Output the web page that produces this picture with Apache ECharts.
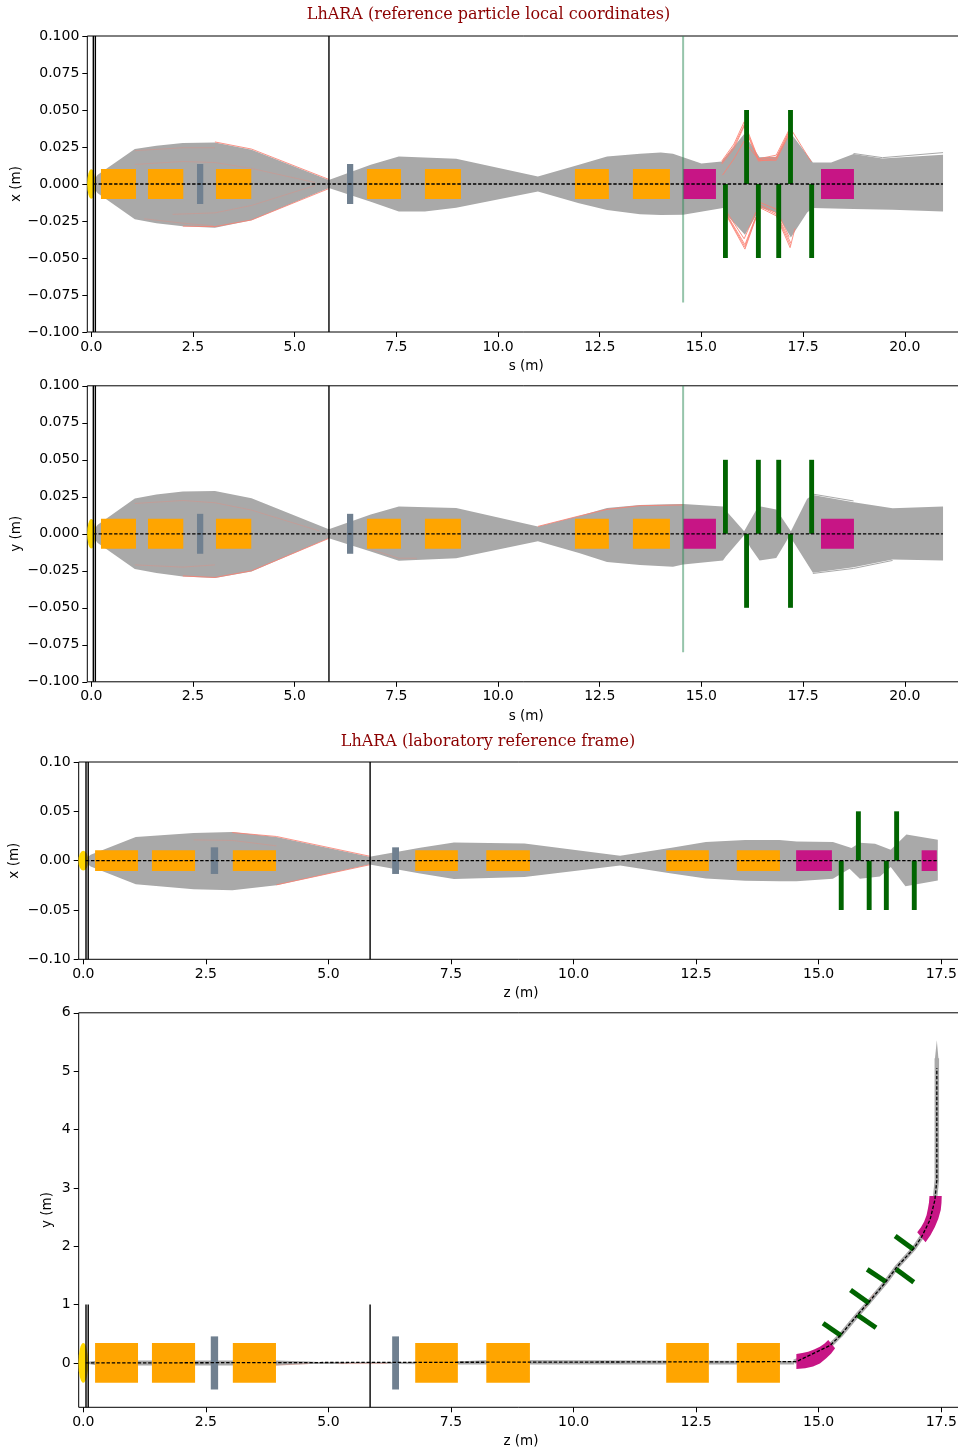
<!DOCTYPE html>
<html>
<head>
<meta charset="utf-8">
<style>html,body{margin:0;padding:0;background:#fff}#c{width:958px;height:1450px}</style>
<script src="https://cdn.jsdelivr.net/npm/echarts@6/dist/echarts.min.js"></script>
</head>
<body>
<div id="c"></div>
<script>
// ---- text and ticks ----
const titleLocal = 'LhARA (reference particle local coordinates)';
const titleLab = 'LhARA (laboratory reference frame)';
const sTicks = [0, 2.5, 5, 7.5, 10, 12.5, 15, 17.5, 20];
const zTicks = [0, 2.5, 5, 7.5, 10, 12.5, 15, 17.5];
const localYTicks = [-0.1, -0.075, -0.05, -0.025, 0, 0.025, 0.05, 0.075, 0.1];
const labXTicks = [-0.1, -0.05, 0, 0.05, 0.1];
const labYTicks = [0, 1, 2, 3, 4, 5, 6];

// ---- beam envelopes [position, offset] ----
const xEnvUpper = [[0.05,0.002],[0.15,0.006],[1.07,0.0236],[1.6,0.0258],[2.25,0.0277],[3.04,0.0281],[3.94,0.0231],[5.84,0.0027],[6.87,0.013],[7.56,0.0185],[8.97,0.017],[10.98,0.005],[11.99,0.013],[12.68,0.0185],[13.49,0.0205],[14.0,0.0213],[14.3,0.0205],[14.55,0.018],[15.0,0.0139],[15.5,0.0152],[16.05,0.0337],[16.43,0.018],[16.84,0.0184],[17.18,0.0349],[17.74,0.0146],[18.19,0.0146],[18.74,0.0202],[19.45,0.0173],[20.94,0.0198]];
const xEnvLower = [[0.05,-0.002],[0.15,-0.006],[1.07,-0.0238],[1.6,-0.0265],[2.25,-0.0285],[3.04,-0.0295],[3.94,-0.0245],[5.84,-0.0027],[6.87,-0.012],[7.56,-0.0185],[8.2,-0.0185],[8.97,-0.016],[10.98,-0.005],[11.99,-0.013],[12.68,-0.0175],[13.49,-0.0205],[14.0,-0.021],[14.55,-0.0208],[15.53,-0.0163],[15.6,-0.0203],[16.07,-0.0343],[16.34,-0.0215],[16.43,-0.0158],[16.84,-0.0192],[17.2,-0.0361],[17.6,-0.0192],[17.74,-0.0163],[18.74,-0.0169],[19.7,-0.0174],[20.94,-0.0185]];
const yEnvUpper = [[0.05,0.002],[0.15,0.006],[1.07,0.0238],[1.6,0.0265],[2.25,0.0285],[3.04,0.029],[3.94,0.024],[5.84,0.003],[6.87,0.013],[7.56,0.0185],[8.97,0.0175],[10.98,0.005],[11.99,0.012],[12.68,0.0175],[13.49,0.0195],[14.2,0.02],[14.55,0.0202],[15.53,0.0184],[15.6,0.0157],[16.05,0.0017],[16.34,0.0157],[16.46,0.0184],[16.84,0.0164],[17.2,0.0017],[17.6,0.0236],[17.74,0.0263],[18.74,0.0213],[19.7,0.0173],[20.94,0.0184]];
const yEnvLower = [[0.05,-0.002],[0.15,-0.006],[1.07,-0.0238],[1.6,-0.0265],[2.25,-0.0288],[3.04,-0.0298],[3.94,-0.0255],[5.84,-0.003],[6.87,-0.012],[7.56,-0.0182],[8.97,-0.0165],[10.98,-0.005],[11.99,-0.013],[12.68,-0.019],[13.49,-0.021],[14.3,-0.0222],[14.55,-0.0208],[15.53,-0.0181],[15.6,-0.0154],[16.05,-0.001],[16.2,-0.0091],[16.43,-0.0181],[16.84,-0.0163],[17.1,-0.0046],[17.16,-0.001],[17.74,-0.0264],[18.74,-0.0226],[19.7,-0.0174],[20.94,-0.0181]];
const labEnvUpper = [[0.05,0.002],[0.15,0.006],[1.07,0.024],[2.25,0.028],[3.04,0.029],[3.94,0.024],[5.84,0.004],[6.87,0.013],[7.56,0.0185],[9.0,0.0175],[10.95,0.005],[12.0,0.013],[12.7,0.019],[13.5,0.021],[14.2,0.021],[14.55,0.0195],[15.29,0.0188],[15.67,0.0127],[15.84,0.0182],[16.15,0.0171],[16.47,0.0111],[16.79,0.0266],[17.43,0.0212]];
const labEnvLower = [[0.05,-0.002],[0.15,-0.006],[1.07,-0.024],[2.25,-0.029],[3.04,-0.03],[3.94,-0.025],[5.84,-0.004],[6.87,-0.013],[7.56,-0.0185],[9.0,-0.0165],[10.95,-0.005],[12.0,-0.013],[12.7,-0.018],[13.5,-0.0205],[14.2,-0.021],[14.55,-0.021],[15.29,-0.0183],[15.63,-0.0082],[15.84,-0.0183],[16.25,-0.016],[16.47,-0.0065],[16.77,-0.026],[17.43,-0.02]];
const planBandUpper = [[0.1,0.02],[0.3,0.042],[3.93,0.042],[4.6,0.025],[4.8,0.015],[5.84,0.012],[7.6,0.025],[8.3,0.05],[14.5,0.035]];
const planBandLower = [[0.1,-0.02],[0.3,-0.042],[3.93,-0.042],[4.6,-0.02],[5.84,-0.012],[7.6,-0.025],[14.5,-0.025]];
const planTrack = [[14.5,0.02],[15.23,0.297],[15.45,0.479],[15.79,0.822],[16.03,1.05],[16.37,1.39],[16.59,1.64],[16.94,1.96],[17.1,2.16],[17.27,2.45],[17.37,2.79],[17.41,3.13],[17.41,5.22]];
const planTip = [[17.37,5.2],[17.445,5.2],[17.41,5.53]];
const planAxisLine = [[0.05,0],[14.54,0.022],[15.23,0.297],[15.45,0.479],[15.79,0.822],[16.03,1.05],[16.37,1.39],[16.59,1.64],[16.94,1.96],[17.1,2.16],[17.27,2.45],[17.37,2.79],[17.41,3.13],[17.41,5.05]];

// ---- stray particle tracks ----
const xStray = [
 [[3.04,0.0284],[3.94,0.0236],[5.84,0.0031]],
 [[2.25,-0.0285],[3.04,-0.0288],[3.94,-0.0243],[5.84,-0.0031]],
 [[15.5,0.0155],[15.8,0.027],[16.05,0.042],[16.4,0.017],[16.84,0.0195],[17.18,0.038],[17.7,0.015]],
 [[15.5,0.0145],[15.8,0.0255],[16.05,0.04],[16.4,0.0165],[16.84,0.018],[17.18,0.037]],
 [[15.5,0.0135],[15.8,0.024],[16.05,0.039],[16.4,0.0155],[16.84,0.017],[17.18,0.036]],
 [[15.52,0.006],[15.8,0.017],[16.05,0.029],[16.42,0.016],[16.84,0.016],[17.16,0.034]],
 [[15.6,-0.0205],[16.07,-0.044],[16.34,-0.023]],
 [[15.6,-0.02],[16.07,-0.0425],[16.34,-0.0225]],
 [[15.6,-0.0195],[16.07,-0.041],[16.34,-0.022]],
 [[15.6,-0.018],[16.05,-0.037],[16.34,-0.019]],
 [[16.4,-0.0155],[16.84,-0.0215],[17.18,-0.043],[17.3,-0.03]],
 [[16.4,-0.0145],[16.84,-0.0205],[17.19,-0.0415]],
 [[16.4,-0.0135],[16.84,-0.0195],[17.2,-0.04]],
 [[16.4,-0.012],[16.84,-0.017],[17.16,-0.036]]
];
const xStrayFaint = [
 [[1.07,0.0132],[2.25,0.0152],[3.04,0.0145],[3.94,0.0105],[5.5,0.001]],
 [[1.07,0.0225],[2.25,0.0245],[3.04,0.0245]],
 [[2.0,-0.0205],[3.04,-0.0195],[3.94,-0.0145],[5.5,-0.001]],
 [[1.3,-0.0235],[2.25,-0.0265],[3.0,-0.0282]]
];
const yStray = [
 [[2.25,-0.0285],[3.04,-0.0295],[3.94,-0.025],[5.84,-0.0031]],
 [[10.98,0.005],[11.99,0.012],[12.68,0.0165],[13.49,0.019],[14.55,0.0195]]
];
const yStrayFaint = [
 [[1.07,0.0205],[2.25,0.0225],[3.04,0.021],[3.94,0.016],[5.6,0.002]],
 [[1.07,-0.021],[2.25,-0.0225],[3.04,-0.021]],
 [[6.87,-0.0105],[7.56,-0.0165],[8.0,-0.0165]]
];
const labStray = [
 [[3.04,0.0285],[3.94,0.0245],[5.84,0.0045]],
 [[3.94,-0.0245],[5.84,-0.0042]]
];
const labStrayFaint = [
 [[2.25,0.021],[3.04,0.0205],[3.94,0.015]],
 [[16.0,-0.005],[16.1,-0.012]]
];
const planStray = [
 [[3.93,-0.04],[4.6,-0.012]],
 [[5.2,-0.012],[6.2,-0.01]],
 [[15.93,0.92],[16.13,1.2]]
];
const xOutliers = [[[18.74,0.0206],[19.45,0.0178],[20.94,0.0212]]];
const yOutliers = [[[17.74,-0.0268],[18.74,-0.0234],[19.7,-0.0180]],[[17.74,0.0268],[18.74,0.0222]]];

// ---- beamline elements [from, to] ----
const sQuads = [[0.238,1.099],[1.394,2.262],[3.065,3.933],[6.777,7.613],[8.203,9.088],[11.89,12.725],[13.316,14.226]];
const sSolenoids = [[2.598,2.753],[6.286,6.44]];
const sDipoles = [[14.55,15.357],[17.94,18.75]];
const xCollUp = [[16.05,16.17],[17.13,17.25]];
const xCollDown = [[15.53,15.65],[16.34,16.46],[16.84,16.96],[17.65,17.77]];
const zQuads = [[0.24,1.116],[1.4,2.28],[3.05,3.93],[6.77,7.64],[8.22,9.11],[11.89,12.76],[13.33,14.21]];
const zSolenoids = [[2.6,2.75],[6.3,6.44]];
const zDipoles = [[14.54,15.27],[17.1,17.41]];
const zCollUp = [[15.76,15.86],[16.54,16.64]];
const zCollDown = [[15.41,15.51],[15.98,16.08],[16.33,16.43],[16.9,17.0]];
const sScreens = [0.05, 0.1, 5.843];
const zScreens = [0.055, 0.1, 5.85];
const sDipoleEntry = 14.55;
const plan1Outer = [[14.545,-0.103],[14.725,-0.09],[14.885,-0.063],[15.025,-0.01],[15.155,0.08],[15.255,0.16],[15.335,0.252]];
const plan1Inner = [[14.545,0.154],[14.665,0.17],[14.785,0.193],[14.905,0.23],[15.025,0.279],[15.115,0.33],[15.195,0.394]];
const plan2Outer = [[17.51,2.86],[17.505,2.74],[17.49,2.62],[17.44,2.47],[17.37,2.33],[17.28,2.19],[17.18,2.07]];
const plan2Inner = [[17.26,2.86],[17.25,2.75],[17.23,2.65],[17.2,2.53],[17.15,2.42],[17.09,2.33],[17.01,2.24]];
const planColl = [[15.09,0.68,15.46,0.467],[15.79,0.822,16.17,0.604],[15.65,1.25,16.03,1.022],[15.99,1.604,16.37,1.392],[16.58,1.604,16.94,1.381],[16.56,2.175,16.93,1.947]];

// ---- drawing helpers ----
const GRAY = '#A9A9A9', SALMON = '#FA8072', ORANGE = '#FFA500', MAGENTA = '#C71585',
      SLATE = '#708090', GOLD = '#FFD700', DGREEN = '#006400';
const series = [];
const FONT = 'DejaVu Sans';

function polygon(g, pts, color, z) {
  series.push({ type: 'custom', xAxisIndex: g, yAxisIndex: g, z: z, silent: true, animation: false,
    data: pts, encode: { x: 0, y: 1 },
    renderItem: (p, api) => p.dataIndex !== 0 ? null : ({ type: 'polygon',
      shape: { points: pts.map(q => api.coord(q)) }, style: { fill: color } }) });
}
function boxes(g, spans, lo, hi, color, z) {
  const data = spans.map(s => [s[0], s[1], lo, hi]);
  series.push({ type: 'custom', xAxisIndex: g, yAxisIndex: g, z: z, silent: true, animation: false,
    data: data, encode: { x: [0, 1], y: [2, 3] },
    renderItem: (p, api) => {
      const a = api.coord([api.value(0), api.value(3)]), b = api.coord([api.value(1), api.value(2)]);
      return { type: 'rect', shape: { x: a[0], y: a[1], width: b[0] - a[0], height: b[1] - a[1] }, style: { fill: color } };
    } });
}
function path(g, pts, color, width, z, dash, opacity) {
  series.push({ type: 'line', xAxisIndex: g, yAxisIndex: g, z: z, silent: true, animation: false,
    data: pts, showSymbol: false, symbol: 'none', smooth: false,
    lineStyle: { color: color, width: width, type: dash || 'solid', opacity: opacity === undefined ? 1 : opacity, cap: 'butt' } });
}
function ellipse(g, cx, cy, rx, ry, color, z) {
  series.push({ type: 'custom', xAxisIndex: g, yAxisIndex: g, z: z, silent: true, animation: false,
    data: [[cx, cy, rx, ry]], encode: { x: 0, y: 1 },
    renderItem: (p, api) => {
      const c = api.coord([cx, cy]), e = api.coord([cx + rx, cy + ry]);
      return { type: 'circle', x: c[0], y: c[1], scaleX: e[0] - c[0], scaleY: c[1] - e[1],
        shape: { cx: 0, cy: 0, r: 1 }, style: { fill: color } };
    } });
}
const DASH = [3.4, 1.8];
const LW = 1.4, DW = 1.3, SW = 1, FAINT = 0.3;

function localPanel(g, up, lo, stray, faint, outliers, collUp, collDown) {
  polygon(g, up.concat(lo.slice().reverse()), GRAY, 2);
  stray.forEach(t => path(g, t, SALMON, SW, 3, null, 0.85));
  faint.forEach(t => path(g, t, SALMON, SW, 3, null, FAINT));
  outliers.forEach(t => path(g, t, GRAY, SW, 3));
  boxes(g, sQuads, -0.0101, 0.0101, ORANGE, 5);
  boxes(g, sSolenoids, -0.0135, 0.0135, SLATE, 5);
  boxes(g, sDipoles, -0.0101, 0.0101, MAGENTA, 5);
  boxes(g, collUp, 0, 0.05, DGREEN, 6);
  boxes(g, collDown, -0.05, 0, DGREEN, 6);
  ellipse(g, 0, 0, 0.1, 0.01, GOLD, 4);
  sScreens.forEach(s => path(g, [[s, -0.1], [s, 0.1]], '#000', LW, 7));
  path(g, [[sDipoleEntry, -0.08], [sDipoleEntry, 0.1]], '#2E8B57', 2, 7, null, 0.5);
  path(g, [[0.05, 0], [20.94, 0]], '#000', DW, 8, DASH);
}

localPanel(0, xEnvUpper, xEnvLower, xStray, xStrayFaint, xOutliers, xCollUp, xCollDown);
localPanel(1, yEnvUpper, yEnvLower, yStray, yStrayFaint, yOutliers, xCollDown, xCollUp);

// lab x panel
polygon(2, labEnvUpper.concat(labEnvLower.slice().reverse()), GRAY, 2);
labStray.forEach(t => path(2, t, SALMON, SW, 3, null, 0.85));
labStrayFaint.forEach(t => path(2, t, SALMON, SW, 3, null, FAINT));
boxes(2, zQuads, -0.0105, 0.0105, ORANGE, 5);
boxes(2, zSolenoids, -0.0135, 0.0135, SLATE, 5);
boxes(2, zDipoles, -0.0105, 0.0105, MAGENTA, 5);
boxes(2, zCollUp, 0, 0.05, DGREEN, 6);
boxes(2, zCollDown, -0.05, 0, DGREEN, 6);
ellipse(2, 0, 0, 0.1, 0.01, GOLD, 4);
zScreens.forEach(s => path(2, [[s, -0.1], [s, 0.1]], '#000', LW, 7));
path(2, [[0.05, 0], [17.43, 0]], '#000', DW, 8, DASH);

// plan view panel
polygon(3, planBandUpper.concat(planBandLower.slice().reverse()), GRAY, 2);
path(3, planTrack, GRAY, 4.5, 2);
polygon(3, planTip, GRAY, 2);
planStray.forEach(t => path(3, t, SALMON, SW, 3, null, FAINT));
boxes(3, zQuads, -0.34, 0.34, ORANGE, 5);
boxes(3, zSolenoids, -0.455, 0.455, SLATE, 5);
polygon(3, plan1Outer.concat(plan1Inner.slice().reverse()), MAGENTA, 5);
polygon(3, plan2Outer.concat(plan2Inner.slice().reverse()), MAGENTA, 5);
planColl.forEach(c => path(3, [[c[0], c[1]], [c[2], c[3]]], DGREEN, 5, 6));
ellipse(3, 0, 0, 0.1, 0.34, GOLD, 4);
zScreens.forEach(s => path(3, [[s, -0.76], [s, 1]], '#000', LW, 7));
path(3, planAxisLine, '#000', DW, 8, DASH);

// ---- axes ----
const fmtMinus = d => v => (v < 0 ? '\u2212' : '') + Math.abs(v).toFixed(d);
const grids = [
  { left: 87.3, top: 36, width: 877.7, height: 296 },
  { left: 87.3, top: 385.8, width: 877.7, height: 296 },
  { left: 78.7, top: 762, width: 884.6, height: 197.3 },
  { left: 78.7, top: 1012.8, width: 884.6, height: 394.5 }
].map(g => Object.assign(g, { show: true, borderColor: '#000', borderWidth: 1, containLabel: false, outerBoundsMode: 'none' }));

function xAxis(i, name, min, max, ticks) {
  return { type: 'value', gridIndex: i, position: 'bottom', min, max, name, nameLocation: 'middle', nameGap: 27.5, nameMoveOverlap: false,
    nameTextStyle: { fontFamily: FONT, fontSize: 13.5, color: '#000' },
    splitLine: { show: false }, axisLine: { show: false, onZero: false },
    axisTick: { show: true, length: 5, customValues: ticks, lineStyle: { color: '#000', width: 1 } },
    axisLabel: { show: true, customValues: ticks, margin: 8, formatter: fmtMinus(1), fontFamily: FONT, fontSize: 14, color: '#000', hideOverlap: false } };
}
function yAxis(i, name, min, max, ticks, dec, gap) {
  return { type: 'value', gridIndex: i, position: 'left', min, max, name, nameLocation: 'middle', nameGap: gap, nameRotate: 90, nameMoveOverlap: false,
    nameTextStyle: { fontFamily: FONT, fontSize: 13.5, color: '#000' },
    splitLine: { show: false }, axisLine: { show: false, onZero: false },
    axisTick: { show: true, length: 5, customValues: ticks, lineStyle: { color: '#000', width: 1 } },
    axisLabel: { show: true, customValues: ticks, margin: 8, formatter: fmtMinus(dec), fontFamily: FONT, fontSize: 14, color: '#000', hideOverlap: false } };
}

const chart = echarts.init(document.getElementById('c'), null, { renderer: 'canvas', width: 958, height: 1450 });
chart.setOption({
  animation: false,
  backgroundColor: '#fff',
  title: [
    { text: titleLocal, left: 483.5, top: 2, textAlign: 'center', textStyle: { fontFamily: 'DejaVu Serif', fontSize: 16, fontWeight: 'normal', color: '#8B0000' } },
    { text: titleLab, left: 483, top: 729, textAlign: 'center', textStyle: { fontFamily: 'DejaVu Serif', fontSize: 16, fontWeight: 'normal', color: '#8B0000' } }
  ],
  grid: grids,
  xAxis: [
    xAxis(0, 's (m)', -0.098, 21.48, sTicks),
    xAxis(1, 's (m)', -0.098, 21.48, sTicks),
    xAxis(2, 'z (m)', -0.094, 17.95, zTicks),
    xAxis(3, 'z (m)', -0.094, 17.95, zTicks)
  ],
  yAxis: [
    yAxis(0, 'x (m)', -0.1, 0.1, localYTicks, 3, 64),
    yAxis(1, 'y (m)', -0.1, 0.1, localYTicks, 3, 64),
    yAxis(2, 'x (m)', -0.1, 0.1, labXTicks, 2, 57),
    yAxis(3, 'y (m)', -0.76, 6, labYTicks, 0, 24)
  ],
  series: series
});
</script>
</body>
</html>
